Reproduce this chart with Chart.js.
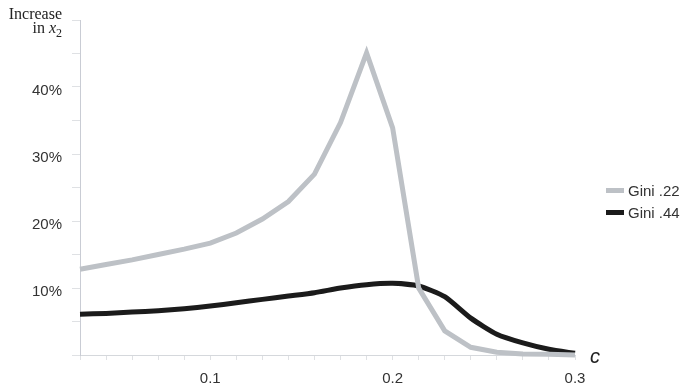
<!DOCTYPE html>
<html>
<head>
<meta charset="utf-8">
<script src="https://cdn.jsdelivr.net/npm/chart.js@4"></script>
<style>
  html, body { margin: 0; padding: 0; background: #fff; }
  .wrap { position: relative; width: 682px; height: 388px; }
  canvas { position: absolute; left: 0; top: 0; }
  .ytitle {
    position: absolute; right: 620px; top: 7px;
    font-family: "Liberation Serif", serif; font-size: 16px; line-height: 14px;
    color: #222; text-align: right; white-space: nowrap;
  }
  .ytitle sub { font-size: 12px; vertical-align: -4px; line-height: 0; }
  .xtitle {
    position: absolute; left: 590px; top: 345px;
    font-family: "Liberation Sans", sans-serif; font-style: italic; font-size: 20px; color: #222;
  }
  #legend {
    position: absolute; left: 606px; top: 179px; list-style: none; margin: 0; padding: 0;
    font-family: "Liberation Sans", sans-serif; font-size: 15px; color: #333;
  }
  #legend li { display: flex; align-items: center; height: 22px; }
  #legend .swatch { display: inline-block; width: 18px; height: 5px; margin-right: 4px; }
</style>
</head>
<body>
<div class="wrap">
  <canvas id="chart" width="682" height="388"></canvas>
  <div class="ytitle">Increase<br>in <i>x</i><sub>2</sub></div>
  <div class="xtitle">c</div>
  <ul id="legend"></ul>
</div>
<script>
const cLabels = ["0.029", "0.043", "0.057", "0.071", "0.086", "0.1", "0.114", "0.129", "0.143", "0.157",
                 "0.171", "0.186", "0.2", "0.214", "0.229", "0.243", "0.257", "0.271", "0.286", "0.3"];
const shownLabels = ["0.1", "0.2", "0.3"];
const gini22 = [12.8, 13.5, 14.2, 15.0, 15.8, 16.7, 18.2, 20.3, 22.9, 27.0,
                34.7, 45.1, 33.9, 10.0, 3.6, 1.15, 0.4, 0.15, 0.1, 0];
const gini44 = [6.1, 6.2, 6.4, 6.6, 6.9, 7.3, 7.8, 8.3, 8.8, 9.3,
                10.0, 10.5, 10.7, 10.3, 8.7, 5.5, 3.1, 1.8, 0.85, 0.25];
const yTicks = [10, 20, 30, 40];

const series = [
  { label: "Gini .22", data: gini22, color: "#bdc1c6", tension: 0 },
  { label: "Gini .44", data: gini44, color: "#1b1b1b", tension: 0.2 },
];

function buildLegend() {
  const legend = document.getElementById("legend");
  series.forEach((s) => {
    const item = document.createElement("li");
    item.innerHTML = `<span class="swatch" style="background:${s.color}"></span><span>${s.label}</span>`;
    legend.appendChild(item);
  });
}

function initChart() {
  const ctx = document.getElementById("chart").getContext("2d");
  new Chart(ctx, {
    type: "line",
    data: {
      labels: cLabels,
      datasets: series.map((s) => ({
        label: s.label,
        data: s.data,
        borderColor: s.color,
        borderWidth: 5,
        pointRadius: 0,
        tension: s.tension,
        fill: false,
        clip: false,
      })),
    },
    options: {
      responsive: false,
      animation: false,
      layout: { padding: { left: 0, right: 107, top: 20, bottom: 0 } },
      plugins: { legend: { display: false }, tooltip: { enabled: false } },
      scales: {
        x: {
          type: "category",
          offset: false,
          border: { display: true, color: "#d5d8dc", width: 1 },
          grid: { drawOnChartArea: false, drawTicks: true, tickLength: 5, color: "#dfe1e4" },
          ticks: {
            autoSkip: false,
            maxRotation: 0,
            padding: 10,
            color: "#333",
            font: { family: "Liberation Sans", size: 15 },
            callback(value) {
              const lab = this.getLabelForValue(value);
              return shownLabels.includes(lab) ? lab : "";
            },
          },
          afterFit(scale) { scale.height = 33; },
        },
        y: {
          min: 0,
          max: 50,
          border: { display: true, color: "#c9ccd4", width: 1 },
          grid: { drawOnChartArea: false, drawTicks: true, tickLength: 8, color: "#dfe1e4" },
          ticks: {
            stepSize: 5,
            padding: 10,
            labelOffset: 4,
            color: "#333",
            font: { family: "Liberation Sans", size: 15 },
            callback(v) { return yTicks.includes(v) ? v + "%" : ""; },
          },
          afterFit(scale) { scale.width = 80; },
        },
      },
    },
  });
}

document.addEventListener("DOMContentLoaded", () => {
  buildLegend();
  initChart();
});
</script>
</body>
</html>
